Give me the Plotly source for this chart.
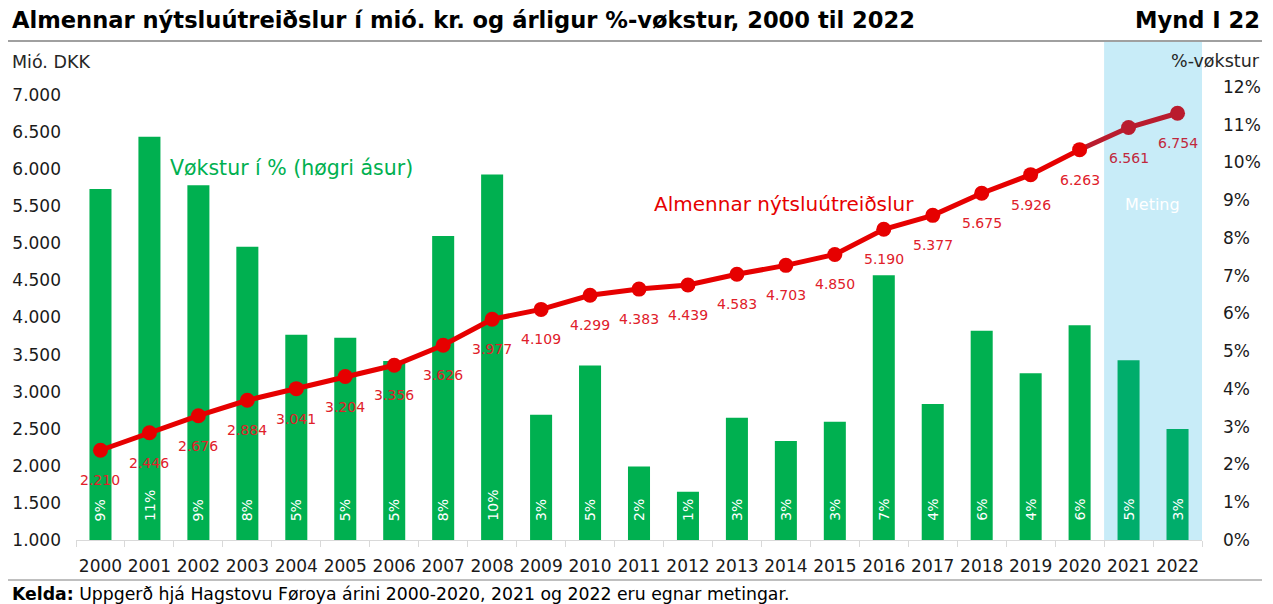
import plotly.graph_objects as go

years = [str(y) for y in range(2000, 2023)]
spending = [2210, 2446, 2676, 2884, 3041, 3204, 3356, 3626, 3977, 4109, 4299, 4383,
            4439, 4583, 4703, 4850, 5190, 5377, 5675, 5926, 6263, 6561, 6754]
growth = [9.30, 10.68, 9.40, 7.77, 5.44, 5.36, 4.74, 8.05, 9.68, 3.32, 4.62, 1.95,
          1.28, 3.24, 2.62, 3.13, 7.01, 3.60, 5.54, 4.42, 5.69, 4.76, 2.94]
growth_labels = ["9%", "11%", "9%", "8%", "5%", "5%", "5%", "8%", "10%", "3%", "5%", "2%",
                 "1%", "3%", "3%", "3%", "7%", "4%", "6%", "4%", "6%", "5%", "3%"]
estimate_years = ["2021", "2022"]
left_ticks = [1000, 1500, 2000, 2500, 3000, 3500, 4000, 4500, 5000, 5500, 6000, 6500, 7000]
left_ticktext = ["1.000", "1.500", "2.000", "2.500", "3.000", "3.500", "4.000", "4.500",
                 "5.000", "5.500", "6.000", "6.500", "7.000"]
right_ticks = list(range(0, 13))
right_ticktext = [f"{v}%" for v in right_ticks]

FONT = "DejaVu Sans"
GREEN = "#00B050"
GREEN_EST = "#00AD6B"
RED = "#E60000"
RED_EST = "#B91C2E"
LBL_RED = "#E0202A"
LBL_RED_EST = "#C0283C"

W, H = 1273, 604
L, R, T, B = 76, 71, 42, 64
PW = W - L - R
PH = H - T - B


def px(x):
    return (x - L) / PW


def py(y):
    return (H - B - y) / PH


idx = list(range(len(years)))
est = [y in estimate_years for y in years]
bar_colors = [GREEN_EST if e else GREEN for e in est]

fig = go.Figure()

# bars on the primary axis (right side, %), line on the overlaying axis (left side, mió. DKK)
fig.add_trace(go.Bar(
    x=idx, y=growth, yaxis="y", marker=dict(color=bar_colors, line=dict(width=0)),
    width=0.45, showlegend=False, hoverinfo="skip",
))

i0 = years.index("2020")
i21 = years.index("2021")
fig.add_trace(go.Scatter(
    x=idx[i0:], y=spending[i0:], yaxis="y2", mode="lines",
    line=dict(color=RED_EST, width=5), showlegend=False, hoverinfo="skip",
))
fig.add_trace(go.Scatter(
    x=idx[i21:], y=spending[i21:], yaxis="y2", mode="markers",
    marker=dict(color=RED_EST, size=15, opacity=1, line=dict(width=0)),
    showlegend=False, hoverinfo="skip",
))
fig.add_trace(go.Scatter(
    x=idx[:i0 + 1], y=spending[:i0 + 1], yaxis="y2", mode="lines+markers",
    line=dict(color=RED, width=5), marker=dict(color=RED, size=15, opacity=1, line=dict(width=0)),
    showlegend=False, hoverinfo="skip",
))

annotations = []
for i, v, e in zip(idx, spending, est):
    annotations.append(dict(
        x=i, y=v, xref="x", yref="y2", yshift=-30, showarrow=False,
        text=f"{v:,}".replace(",", "."),
        font=dict(family=FONT, size=14, color=LBL_RED_EST if e else LBL_RED),
    ))
for i, t in zip(idx, growth_labels):
    annotations.append(dict(
        x=i, y=0, xref="x", yref="y", yanchor="bottom", yshift=17, showarrow=False,
        text=t, textangle=-90, font=dict(family=FONT, size=14, color="white"),
    ))

annotations += [
    dict(x=px(10), y=py(20), xref="paper", yref="paper", xanchor="left", yanchor="middle",
         showarrow=False,
         text="<b>Almennar nýtsluútreiðslur í mió. kr. og árligur %-vøkstur, 2000 til 2022</b>",
         font=dict(family=FONT, size=22.6, color="black")),
    dict(x=px(1262), y=py(20), xref="paper", yref="paper", xanchor="right", yanchor="middle",
         showarrow=False, text="<b>Mynd I 22</b>",
         font=dict(family=FONT, size=22.6, color="black")),
    dict(x=px(10), y=py(62), xref="paper", yref="paper", xanchor="left", yanchor="middle",
         showarrow=False, text="Mió. DKK", font=dict(family=FONT, size=17.5, color="#262626")),
    dict(x=px(1262), y=py(61), xref="paper", yref="paper", xanchor="right", yanchor="middle",
         showarrow=False, text="%-vøkstur", font=dict(family=FONT, size=17.5, color="#262626")),
    dict(x=px(168), y=py(168), xref="paper", yref="paper", xanchor="left", yanchor="middle",
         showarrow=False, text="Vøkstur í % (høgri ásur)",
         font=dict(family=FONT, size=20.5, color=GREEN)),
    dict(x=px(652), y=py(204), xref="paper", yref="paper", xanchor="left", yanchor="middle",
         showarrow=False, text="Almennar nýtsluútreiðslur",
         font=dict(family=FONT, size=20, color=RED)),
    dict(x=px(1152), y=py(204), xref="paper", yref="paper", xanchor="center", yanchor="middle",
         showarrow=False, text="Meting", font=dict(family=FONT, size=16, color="white")),
    dict(x=px(10), y=py(594), xref="paper", yref="paper", xanchor="left", yanchor="middle",
         showarrow=False,
         text="<b>Kelda:</b> Uppgerð hjá Hagstovu Føroya árini 2000-2020, 2021 og 2022 eru egnar metingar.",
         font=dict(family=FONT, size=17.3, color="black")),
]

shapes = [
    dict(type="rect", xref="x", yref="paper", x0=i21 - 0.5, x1=len(years) - 0.5, y0=0, y1=1,
         fillcolor="#C8ECF8", line=dict(width=0), layer="below"),
    dict(type="line", xref="paper", yref="paper", x0=px(8), x1=px(1262), y0=py(41), y1=py(41),
         line=dict(color="#A0A0A0", width=2)),
    dict(type="line", xref="paper", yref="paper", x0=px(8), x1=px(1262), y0=py(580), y1=py(580),
         line=dict(color="#BFBFBF", width=2)),
]

top_left = 1000 + PH * (7000 - 1000) / (540 - 95)
top_right = PH * 12 / (540 - 87)

fig.update_layout(
    width=W, height=H, margin=dict(l=L, r=R, t=T, b=B, pad=0, autoexpand=False),
    paper_bgcolor="white", plot_bgcolor="rgba(0,0,0,0)",
    font=dict(family=FONT, size=17, color="#1a1a1a"),
    xaxis=dict(tickmode="array", tickvals=idx, ticktext=years, tickangle=0,
               ticks="", showline=True, linecolor="#D9D9D9", linewidth=1,
               showgrid=False, zeroline=False, ticklabelstandoff=11,
               minor=dict(tickmode="array", tickvals=[i - 0.5 for i in idx] + [len(idx) - 0.5],
                          ticks="outside", ticklen=6, tickcolor="#D9D9D9", showgrid=False),
               tickfont=dict(family=FONT, size=17, color="#1a1a1a"),
               range=[-0.5, len(years) - 0.5], fixedrange=True),
    yaxis=dict(range=[0, top_right], tickvals=right_ticks, ticktext=right_ticktext,
               side="right", showgrid=False, zeroline=False,
               showline=False, ticks="", ticklabelstandoff=20,
               tickfont=dict(family=FONT, size=17, color="#1a1a1a")),
    yaxis2=dict(range=[1000, top_left], tickvals=left_ticks, ticktext=left_ticktext,
                overlaying="y", side="left", showgrid=False, zeroline=False, showline=False,
                ticks="", ticklabelstandoff=14,
                tickfont=dict(family=FONT, size=17, color="#1a1a1a")),
    annotations=annotations, shapes=shapes,
)

fig.write_html("out.html", config={"displayModeBar": False, "staticPlot": True},
               post_script="document.body.style.margin='0';")
